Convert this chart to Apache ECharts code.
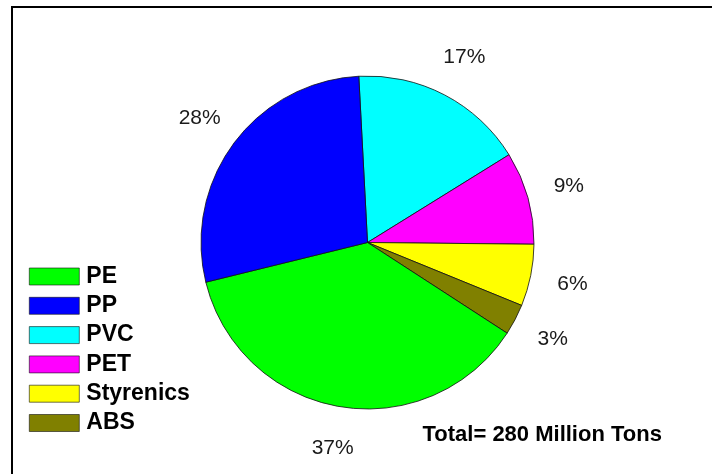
<!DOCTYPE html>
<html>
<head>
<meta charset="utf-8">
<title>Plastics production by resin</title>
<script src="https://cdn.jsdelivr.net/npm/echarts@6/dist/echarts.min.js"></script>
<style>
  html, body { margin: 0; padding: 0; background: #fff; }
  #chart { width: 712px; height: 474px; }
</style>
</head>
<body>
<div id="chart"></div>
<script>
// Resin shares, listed clockwise starting just left of 12 o'clock
const categories = ['PVC', 'PET', 'Styrenics', 'ABS', 'PE', 'PP'];
const shares = [17, 9, 6, 3, 37, 28];
const sliceColors = ['#00ffff', '#ff00ff', '#ffff00', '#808000', '#00ff00', '#0000ff'];
const legendOrder = ['PE', 'PP', 'PVC', 'PET', 'Styrenics', 'ABS'];
const totalNote = 'Total= 280 Million Tons';

const FONT = '"Liberation Sans", Arial, sans-serif';
const CENTER = [367.5, 242.5];
const START = 93;

const chart = echarts.init(document.getElementById('chart'), null, { renderer: 'canvas' });

const sliceData = categories.map((name, i) => ({
  name,
  value: shares[i],
  itemStyle: { color: sliceColors[i] }
}));

// Invisible ring whose "inside" labels sit just outside the pie, centred on each slice's bisector
const labelRing = categories.map((name, i) => ({
  name,
  value: shares[i],
  itemStyle: { color: 'rgba(0,0,0,0)', borderWidth: 0 }
}));

chart.setOption({
  animation: false,
  backgroundColor: '#ffffff',
  legend: {
    data: legendOrder,
    orient: 'vertical',
    left: 29,
    top: 265,
    padding: 0,
    itemWidth: 50,
    itemHeight: 17,
    itemGap: 6.3,
    icon: 'rect',
    selectedMode: false,
    itemStyle: { borderColor: 'inherit', borderWidth: 0.6 },
    textStyle: {
      fontFamily: FONT,
      fontSize: 23,
      fontWeight: 'bold',
      color: '#000',
      padding: [0, 0, 0, 2]
    }
  },
  graphic: [
    {
      type: 'rect',
      z: -1,
      shape: { x: 12, y: 7, width: 800, height: 600 },
      style: { fill: 'none', stroke: '#000', lineWidth: 2 }
    },
    {
      type: 'text',
      left: 422.5,
      top: 424,
      style: {
        text: totalNote,
        font: 'bold 22px ' + FONT,
        fill: '#000'
      }
    }
  ],
  series: [
    {
      name: 'Resin',
      type: 'pie',
      center: CENTER,
      radius: 166.5,
      startAngle: START,
      clockwise: true,
      silent: true,
      label: { show: false },
      labelLine: { show: false },
      itemStyle: { borderColor: '#111', borderWidth: 0.8 },
      data: sliceData
    },
    {
      name: 'Share labels',
      type: 'pie',
      center: CENTER,
      radius: [201, 211],
      startAngle: START,
      clockwise: true,
      silent: true,
      legendHoverLink: false,
      avoidLabelOverlap: false,
      label: {
        show: true,
        position: 'inside',
        formatter: p => p.value + '%',
        fontFamily: FONT,
        fontSize: 21,
        color: '#1a1a1a'
      },
      labelLine: { show: false },
      data: labelRing
    }
  ]
});
</script>
</body>
</html>
